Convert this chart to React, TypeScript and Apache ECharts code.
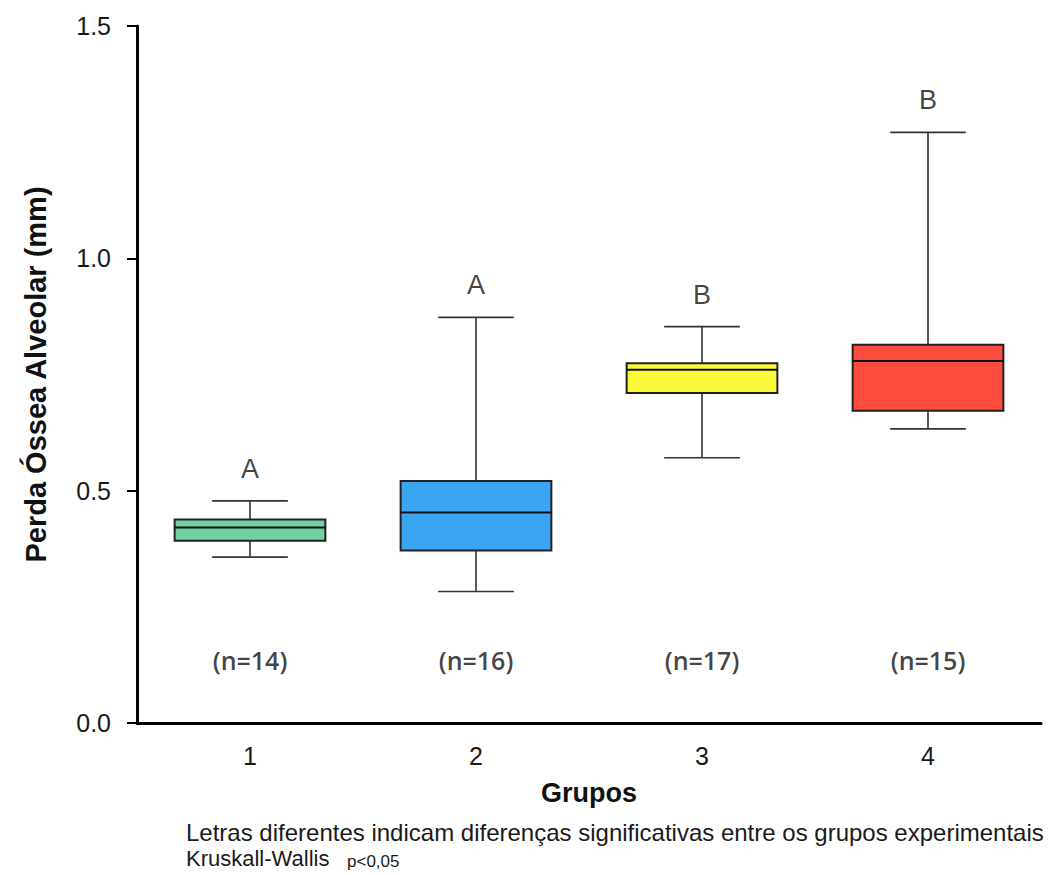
import React, { useEffect, useRef } from "react";
import * as echarts from "echarts";

const groups = ["1", "2", "3", "4"];
// [min, Q1, median, Q3, max]
const boxStats = [
  [0.357, 0.392, 0.421, 0.438, 0.478],
  [0.283, 0.371, 0.453, 0.521, 0.873],
  [0.571, 0.71, 0.76, 0.774, 0.853],
  [0.633, 0.672, 0.779, 0.814, 1.271],
];
const boxColors = ["#6fd3a1", "#3ba4f3", "#f9f93a", "#fd4b3e"];
const letters = ["A", "A", "B", "B"];
const nLabels = ["(n=14)", "(n=16)", "(n=17)", "(n=15)"];
const nLabelLevel = [0.135, 0.135, 0.135, 0.135];
const yTicks = { min: 0, max: 1.5, interval: 0.5 };

export default function App() {
  const ref = useRef<HTMLDivElement>(null);
  useEffect(() => {
    document.body.style.margin = "0";
    const chart = echarts.init(ref.current!, null, { renderer: "svg" });
    const boxData = boxStats.map((s, i) => [i, ...s]);
    chart.setOption({
      animation: false,
      backgroundColor: "#ffffff",
      grid: { left: 137, right: 16, top: 26, bottom: 152 },
      xAxis: {
        type: "category",
        data: groups,
        boundaryGap: true,
        name: "Grupos",
        nameLocation: "middle",
        nameGap: 56,
        nameTextStyle: { fontFamily: "Liberation Sans", fontWeight: "bold", fontSize: 27, color: "#111" },
        axisLine: { lineStyle: { color: "#000", width: 3 } },
        axisTick: { alignWithLabel: true, length: 10, lineStyle: { color: "#000", width: 2 } },
        axisLabel: { margin: 20, fontFamily: "Liberation Sans", fontSize: 25, color: "#1a1a1a" },
        splitLine: { show: false },
      },
      yAxis: {
        type: "value",
        min: yTicks.min,
        max: yTicks.max,
        interval: yTicks.interval,
        name: "Perda Óssea Alveolar (mm)",
        nameLocation: "middle",
        nameGap: 87,
        nameRotate: 90,
        nameTextStyle: { fontFamily: "Liberation Sans", fontWeight: "bold", fontSize: 29, color: "#111" },
        axisLine: { show: true, lineStyle: { color: "#000", width: 3 } },
        axisTick: { show: true, length: 10, lineStyle: { color: "#000", width: 2 } },
        axisLabel: {
          margin: 26,
          fontFamily: "Liberation Sans",
          fontSize: 25,
          color: "#1a1a1a",
          formatter: (v: number) => v.toFixed(1),
        },
        splitLine: { show: false },
      },
      series: [
        {
          type: "custom",
          data: boxData,
          encode: { x: 0, y: [1, 2, 3, 4, 5] },
          renderItem: (params: any, api: any) => {
            const idx = api.value(0);
            const vMin = api.value(1);
            const q1 = api.value(2);
            const med = api.value(3);
            const q3 = api.value(4);
            const vMax = api.value(5);
            const band = api.size([1, 0])[0];
            const cx = api.coord([idx, med])[0];
            const yMin = api.coord([idx, vMin])[1];
            const yQ1 = api.coord([idx, q1])[1];
            const yMed = api.coord([idx, med])[1];
            const yQ3 = api.coord([idx, q3])[1];
            const yMax = api.coord([idx, vMax])[1];
            const bw = band * 0.667;
            const cw = band * 0.335;
            const ws = { stroke: "#333", lineWidth: 1.6 };
            return {
              type: "group",
              children: [
                { type: "line", shape: { x1: cx, y1: yMax, x2: cx, y2: yQ3 }, style: ws },
                { type: "line", shape: { x1: cx, y1: yQ1, x2: cx, y2: yMin }, style: ws },
                { type: "line", shape: { x1: cx - cw / 2, y1: yMax, x2: cx + cw / 2, y2: yMax }, style: ws },
                { type: "line", shape: { x1: cx - cw / 2, y1: yMin, x2: cx + cw / 2, y2: yMin }, style: ws },
                {
                  type: "rect",
                  shape: { x: cx - bw / 2, y: yQ3, width: bw, height: yQ1 - yQ3 },
                  style: { fill: boxColors[params.dataIndex], stroke: "#222", lineWidth: 2 },
                },
                {
                  type: "line",
                  shape: { x1: cx - bw / 2, y1: yMed, x2: cx + bw / 2, y2: yMed },
                  style: { stroke: "#111", lineWidth: 2 },
                },
              ],
            };
          },
          z: 2,
        },
        {
          type: "scatter",
          data: boxStats.map((s, i) => [i, s[4]]),
          symbolSize: 1,
          itemStyle: { color: "rgba(0,0,0,0)" },
          label: {
            show: true,
            position: "top",
            distance: 18,
            formatter: (p: any) => letters[p.dataIndex],
            fontFamily: "Liberation Sans",
            fontSize: 27,
            color: "#111",
          },
          silent: true,
          z: 3,
        },
        {
          type: "scatter",
          data: nLabelLevel.map((v, i) => [i, v]),
          symbolSize: 1,
          itemStyle: { color: "rgba(0,0,0,0)" },
          label: {
            show: true,
            position: "inside",
            formatter: (p: any) => nLabels[p.dataIndex],
            fontFamily: "Open Sans",
            fontWeight: 600,
            fontSize: 25,
            color: "#111",
          },
          silent: true,
          z: 3,
        },
      ],
      graphic: [
        {
          type: "text",
          left: 186,
          top: 820,
          style: {
            text: "Letras diferentes indicam diferenças significativas entre os grupos experimentais",
            font: "24px 'Liberation Sans'",
            fill: "#1a1a1a",
          },
        },
        {
          type: "text",
          left: 186,
          top: 847,
          style: {
            text: "Kruskall-Wallis",
            font: "22px 'Liberation Sans'",
            fill: "#1a1a1a",
          },
        },
        {
          type: "text",
          left: 347,
          top: 853,
          style: {
            text: "p<0,05",
            font: "17px 'Liberation Sans'",
            fill: "#1a1a1a",
          },
        },
      ],
    });
    return () => chart.dispose();
  }, []);
  return <div ref={ref} style={{ width: 1057, height: 875 }} />;
}
